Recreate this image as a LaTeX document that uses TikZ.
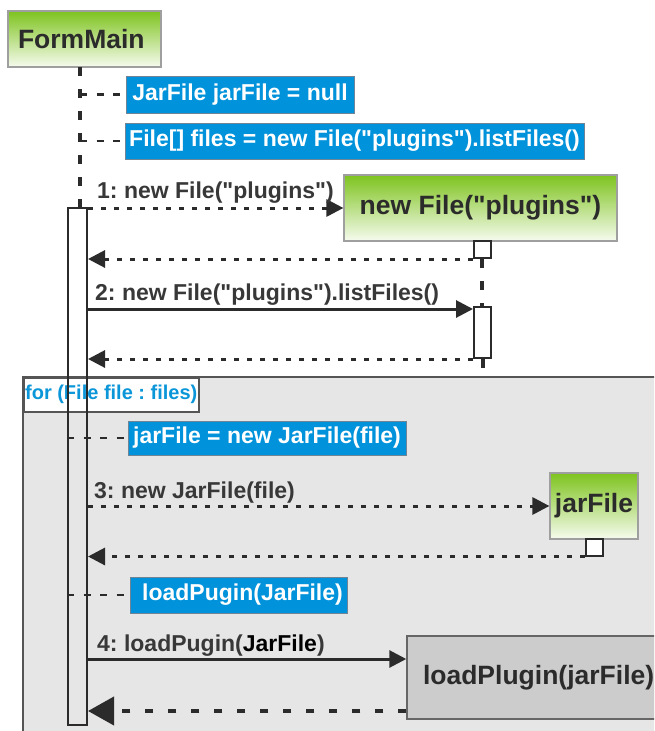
\documentclass[tikz,border=0pt]{standalone}
\usepackage{fontspec}
\setmainfont{Liberation Sans}[Ligatures=TeXOff]
\usetikzlibrary{arrows.meta}
\frenchspacing

\definecolor{headgreen}{HTML}{7EC31F}
\definecolor{headlight}{HTML}{F6FBEE}
\definecolor{notebox}{HTML}{0092DA}
\definecolor{noteedge}{HTML}{6F8494}
\definecolor{loopfill}{HTML}{E6E6E6}
\definecolor{loopedge}{HTML}{555555}
\definecolor{looptext}{HTML}{0A96D8}
\definecolor{callfill}{HTML}{CCCCCC}
\definecolor{ink}{HTML}{2B2B2B}
\definecolor{labelink}{HTML}{383838}

\tikzset{
  headbox/.style={draw=gray!75, line width=1.2pt, top color=headgreen, bottom color=headlight,
    inner sep=0pt, text=ink, font=\bfseries\fontsize{26.5}{31}\selectfont},
  notebox/.style={draw=noteedge, line width=1pt, fill=notebox, inner sep=0pt, text=white,
    font=\bfseries\fontsize{23}{27}\selectfont},
  callbox/.style={draw=gray!80!black, line width=1.5pt, fill=callfill, inner sep=0pt, text=ink,
    font=\bfseries\fontsize{26.5}{31}\selectfont},
  actbar/.style={draw=ink, line width=2pt, inner sep=0pt},
  retsquare/.style={draw=ink, line width=2pt, fill=white, inner sep=0pt,
    minimum width=17pt, minimum height=17pt},
  msglabel/.style={anchor=base west, inner sep=0pt, text=labelink,
    font=\bfseries\fontsize{23}{27}\selectfont},
  lifeline/.style={draw=ink, line width=4pt, dash pattern=on 9pt off 13pt},
  notelink/.style={draw=ink, line width=2.5pt, dash pattern=on 7pt off 9.5pt},
  callsync/.style={draw=ink, line width=3pt, -{Triangle[length=17pt,width=17pt]}},
  callasync/.style={draw=ink, line width=3pt, dash pattern=on 5pt off 8pt,
    -{Triangle[length=17pt,width=17pt]}},
  retmsg/.style={draw=ink, line width=3pt, dash pattern=on 5pt off 8pt,
    -{Triangle[length=17pt,width=17pt]}},
  retbig/.style={draw=ink, line width=4pt, dash pattern=on 8pt off 15pt,
    -{Triangle[length=26pt,width=28pt]}},
}

\begin{document}
\begin{tikzpicture}[x=1pt,y=-1pt]
\useasboundingbox (0,0) rectangle (654,731);
\clip (0,0) rectangle (654,731);
\fill[white] (0,0) rectangle (654,731);

% combined fragment: for loop
\fill[loopfill] (23,377) rectangle (700,760);
\draw[loopedge, line width=2pt] (23,760) -- (23,377) -- (700,377);
\node[draw=loopedge, line width=1.5pt, fill=white, inner sep=0pt, anchor=north west,
  minimum width=175pt, minimum height=34pt, text=looptext,
  font=\bfseries\fontsize{20}{24}\selectfont] (looptab) at (23,377) {for (File file : files)};

% lifeline heads
\node[headbox, minimum width=153pt, minimum height=56pt, text width=153pt, align=left]
  (formmain) at (84.5,39) {\hspace*{10pt}FormMain};
\node[headbox, minimum width=273pt, minimum height=66pt] (newfile) at (480.5,208) {new File("plugins")};
\node[headbox, minimum width=88pt, minimum height=66pt] (jarfile) at (594,506) {jarFile};
\node[callbox, minimum width=262pt, minimum height=83pt, text width=262pt, align=left]
  (loadplugin) at (538,677.5) {\hspace*{16pt}loadPlugin(jarFile)};

% FormMain lifeline and activation
\coordinate (lifeA) at (80,67);
\node[actbar, minimum width=19pt, minimum height=517pt] (actA) at (77.5,466.5) {};
\draw[lifeline] (lifeA) -- (lifeA |- actA.north);

% notes attached to FormMain
\node[notebox, minimum width=228pt, minimum height=37pt] (n1) at (240,94.5) {JarFile jarFile = null};
\node[notebox, minimum width=459pt, minimum height=36pt] (n2) at (354.5,141) {File[] files = new File("plugins").listFiles()};
\node[notebox, minimum width=278pt, minimum height=34pt] (n3) at (267,438) {jarFile = new JarFile(file)};
\node[notebox, minimum width=217pt, minimum height=36pt] (n4) at (238.5,595) {\hspace*{8pt}loadPugin(JarFile)};
\draw[notelink] (lifeA |- n1.west) -- (n1.west);
\draw[notelink] (lifeA |- n2.west) -- (n2.west);
\draw[notelink] (actA.west |- n3.west) -- (n3.west);
\draw[notelink] (actA.west |- n4.west) -- (n4.west);

% new File("plugins") lifeline
\node[retsquare] (sq1) at (482,249.5) {};
\node[actbar, minimum width=17pt, minimum height=51pt] (actB) at (482.5,332.5) {};
\coordinate (endB) at (482.5,368);
\draw[lifeline] (sq1.south) -- (sq1.south |- actB.north);
\draw[lifeline] (actB.south) -- (endB);

% jarFile lifeline square
\node[retsquare] (sq2) at (594,547) {};

% messages
\draw[callasync] (actA.east |- newfile.west) -- (newfile.west);
\node[msglabel] (lab1) at (97,198) {1: new File("plugins")};
\draw[retmsg] (sq1.south west) -- (actA.east |- sq1.south west);

\draw[callsync] (actA.east |- 0,309) -- (actB.west |- 0,309);
\node[msglabel] (lab2) at (95,300) {2: new File("plugins").listFiles()};
\draw[retmsg] (actB.south west) -- (actA.east |- actB.south west);

\draw[callasync] (actA.east |- jarfile.west) -- (jarfile.west);
\node[msglabel] (lab3) at (94,498) {3: new JarFile(file)};
\draw[retmsg] (sq2.south west) -- (actA.east |- sq2.south west);

\draw[callsync] (actA.east |- 0,659) -- (loadplugin.west |- 0,659);
\node[msglabel] (lab4) at (97,651) {4: loadPugin(\textcolor{black}{JarFile})};
\draw[retbig] (loadplugin.west |- 0,711) -- (actA.east |- 0,711);
\end{tikzpicture}
\end{document}
